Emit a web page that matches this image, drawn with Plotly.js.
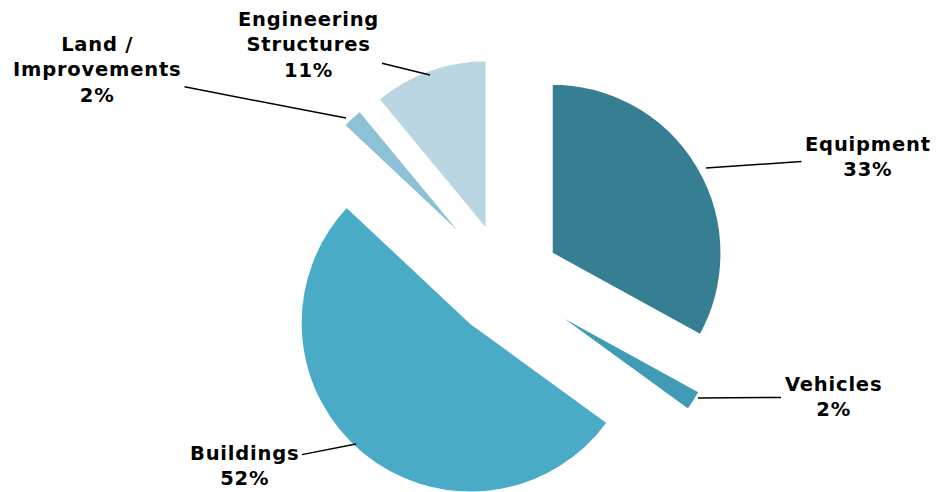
<!DOCTYPE html>
<html>
<head>
<meta charset="utf-8">
<script src="https://cdn.plot.ly/plotly-3.0.1.min.js"></script>
<style>
html,body{margin:0;padding:0;background:#fff;overflow:hidden;width:936px;height:492px}
.annotation-text{letter-spacing:0.8px}
</style>
</head>
<body>
<div id="chart" style="width:936px;height:510px"></div>
<script>
const categories = ["Equipment", "Vehicles", "Buildings", "Land /<br>Improvements", "Engineering<br>Structures"];
const values = [33, 2, 52, 2, 11];
const percentLabels = ["33%", "2%", "52%", "2%", "11%"];
const colors = ["#367f93", "#3f9bb6", "#4aabc6", "#8dc2d6", "#b9d6e2"];

const W = 936, H = 510;
const px = x => x / W;
const py = y => 1 - y / H;

// label placement (pixel): text centre and leader-line tip on the slice
const labelPos = [
  {tx: 868, ty: 157, ax: 706, ay: 168},
  {tx: 833, ty: 397, ax: 698, ay: 398},
  {tx: 244, ty: 466, ax: 356, ay: 444},
  {tx: 97,  ty: 70,  ax: 346, ay: 118},
  {tx: 308, ty: 45,  ax: 430, ay: 75}
];

const annotations = categories.map((c, i) => ({
  xref: 'paper', yref: 'paper', axref: 'paper', ayref: 'paper',
  x: px(labelPos[i].ax), y: py(labelPos[i].ay),
  ax: px(labelPos[i].tx), ay: py(labelPos[i].ty),
  text: '<b>' + c + '<br>' + percentLabels[i] + '</b>',
  showarrow: true, arrowhead: 0, arrowwidth: 1.5, arrowcolor: '#000',
  standoff: 0, startstandoff: 2,
  font: {family: 'DejaVu Sans, sans-serif', size: 19.5, color: '#000'},
  align: 'center'
}));

const cx = 505, cy = 281, half = 224;
const trace = {
  type: 'pie',
  values: values,
  labels: categories,
  sort: false,
  direction: 'clockwise',
  rotation: 0,
  pull: [0.32, 0.32, 0.32, 0.32, 0.32],
  marker: {colors: colors, line: {color: '#ffffff', width: 2}},
  textinfo: 'none',
  hoverinfo: 'label+percent',
  domain: {x: [(cx - half) / W, (cx + half) / W], y: [py(cy + half), py(cy - half)]}
};

Plotly.newPlot('chart', [trace], {
  width: W, height: H,
  margin: {l: 0, r: 0, t: 0, b: 0},
  showlegend: false,
  paper_bgcolor: '#fff',
  annotations: annotations
}, {displayModeBar: false, staticPlot: true});
</script>
</body>
</html>
